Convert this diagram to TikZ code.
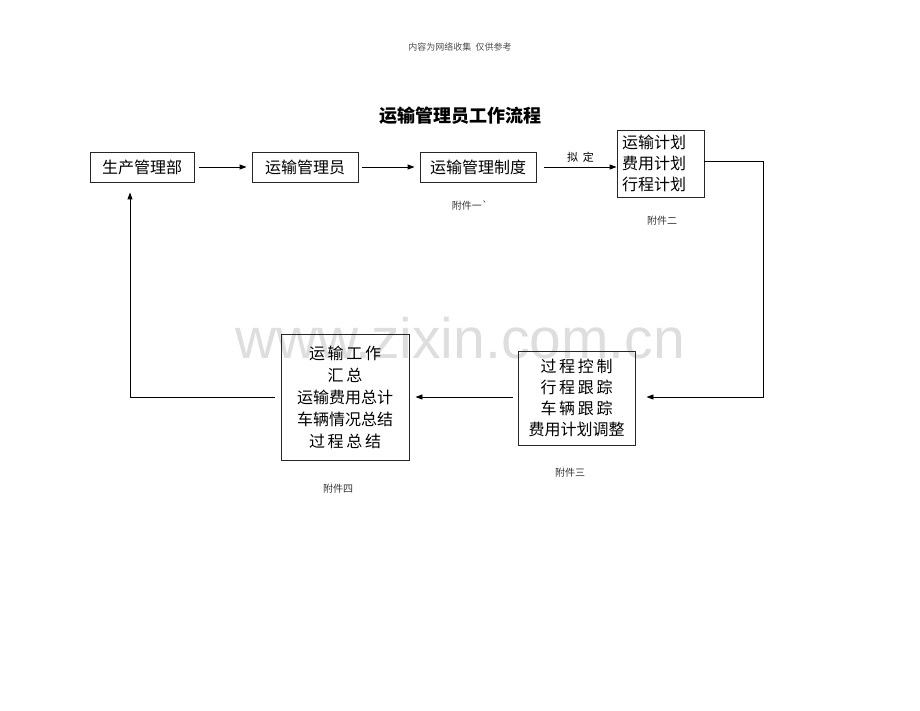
\documentclass[tikz,border=0pt]{standalone}
\usepackage{fontspec}
\newfontfamily\cjk{Noto Sans CJK SC}
\newfontfamily\wm{Liberation Sans}
\usetikzlibrary{arrows.meta}
\begin{document}
\begin{tikzpicture}[x=1pt,y=-1pt,
  box/.style={draw=black!85,line width=0.9pt,inner sep=0pt,font=\cjk\fontsize{16}{21}\selectfont},
  lbl/.style={font=\cjk\fontsize{10}{12}\selectfont,text=black!80},
  conn/.style={line width=0.9pt,-{Triangle[length=7pt,width=5pt]}},
  plain/.style={line width=0.9pt}]
\useasboundingbox (0,0) rectangle (920,711);
\node[font=\wm\fontsize{57}{60}\selectfont,text=black!13] (wm) at (460,338) {www.zixin.com.cn};
\node[font=\cjk\fontsize{9}{11}\selectfont,text=black!70] (hdr) at (460,47) {内容为网络收集\ \ 仅供参考};
\node[font=\cjk\bfseries\fontsize{18}{22}\selectfont] (title) at (460,116) {运输管理员工作流程};
\node[box,minimum width=104,minimum height=30] (b1) at (142,167) {生产管理部};
\node[box,minimum width=106,minimum height=30] (b2) at (305,167) {运输管理员};
\node[box,minimum width=116,minimum height=30] (b3) at (478,167) {运输管理制度};
\node[box,text width=77,inner xsep=5,minimum height=67,align=left] (b4) at (660.5,163.5) {运输计划\\费用计划\\行程计划};
\node[box,minimum width=117,minimum height=94,align=center] (b5) at (576.5,398) {过\,程\,控\,制\\行\,程\,跟\,踪\\车\,辆\,跟\,踪\\费用计划调整};
\node[box,minimum width=128,minimum height=126,align=center,font=\cjk\fontsize{16}{22}\selectfont] (b6) at (345,397) {运\,输\,工\,作\\汇\,总\\运输费用总计\\车辆情况总结\\过\,程\,总\,结};
\node[lbl] (a1) at (470,206) {附件一`};
\node[lbl] (a2) at (662,221) {附件二};
\node[lbl] (a3) at (570,473) {附件三};
\node[lbl] (a4) at (338,489) {附件四};
\coordinate (r4) at (763,161);
\coordinate (r5) at (763,397);
\coordinate (l6) at (130,397);
\draw[conn] ([xshift=5]b1.east) -- ([xshift=-5]b2.west);
\draw[conn] ([xshift=4]b2.east) -- ([xshift=-5]b3.west);
\draw[conn] ([xshift=8]b3.east) -- node[above=1pt,font=\cjk\fontsize{11}{13}\selectfont] (nd) {拟\ \ 定} (b4.west |- b3.east);
\draw[conn] (b4.east |- r4) -- (r4) -- (r5) -- ([xshift=11]b5.east |- r5);
\draw[conn] ([xshift=-5]b5.west |- r5) -- ([xshift=6]b6.east |- r5);
\draw[conn] ([xshift=-6]b6.west |- l6) -- (l6) -- ([yshift=-10]b1.south -| l6);
\end{tikzpicture}
\end{document}
